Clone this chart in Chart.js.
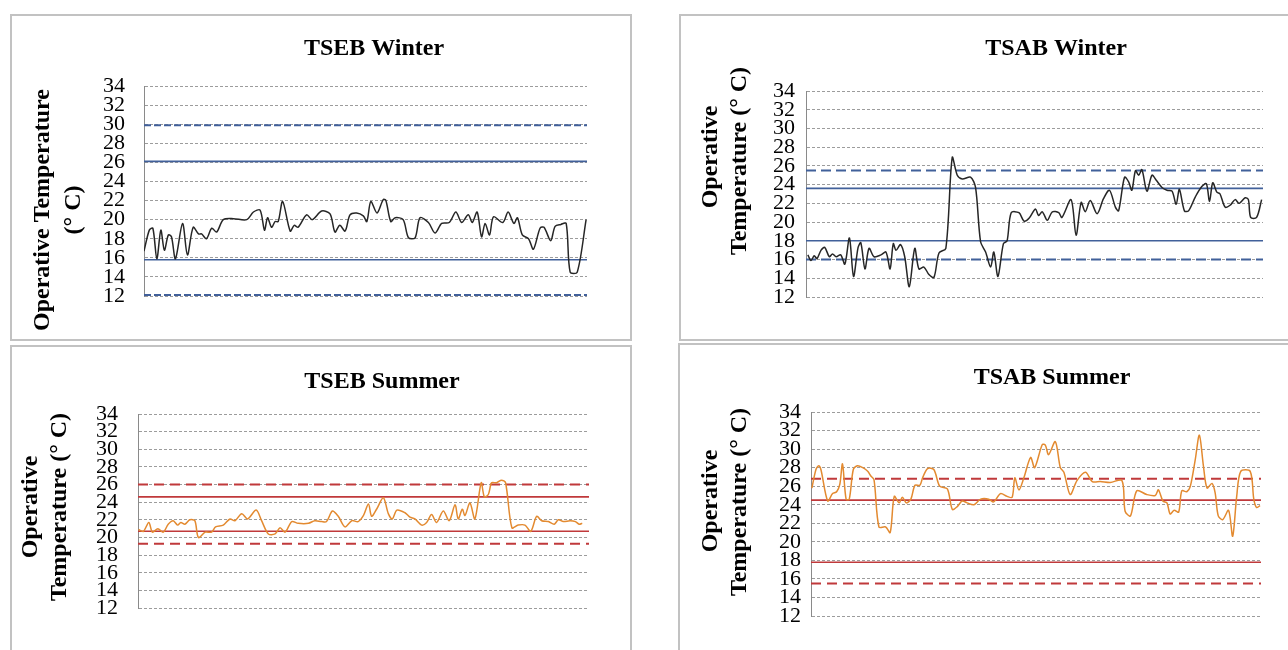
<!DOCTYPE html>
<html lang="en">
<head>
<meta charset="UTF-8">
<title>Operative Temperature - TSEB / TSAB</title>
<script src="https://cdn.jsdelivr.net/npm/chart.js"></script>
<style>
  body { margin: 0; background: #fff; }
  #page { position: relative; width: 1288px; height: 650px; overflow: hidden; }
  .box { position: absolute; border: 2px solid #c2c2c2; box-sizing: border-box; }
  canvas { position: absolute; left: 0; top: 0; }
</style>
</head>
<body>
<div id="page">
  <div class="box" style="left:10px;top:14px;width:622px;height:327px"></div>
  <div class="box" style="left:679px;top:14px;width:640px;height:327px"></div>
  <div class="box" style="left:10px;top:345px;width:622px;height:330px"></div>
  <div class="box" style="left:678px;top:343px;width:640px;height:330px"></div>
  <canvas id="tsebWinter" width="1288" height="650"></canvas>
  <canvas id="tsabWinter" width="1288" height="650"></canvas>
  <canvas id="tsebSummer" width="1288" height="650"></canvas>
  <canvas id="tsabSummer" width="1288" height="650"></canvas>
</div>

<script>
// time along the monitoring period (0-100 % of the run), temperatures in deg C
const timeSpan = [0, 100];
const tempTicks = [12, 34, 2]; // min, max, step

const tsebWinterTime = [0, 1.2, 2.0, 2.9, 3.8, 4.6, 5.5, 6.2, 7.1, 8.7, 9.8, 11.1, 12.3, 13.0, 14.1, 15.3, 16.4, 17.9, 20.2, 23.2,
  24.7, 26.2, 27.2, 27.9, 28.8, 29.6, 30.3, 31.3, 33.0, 33.9, 34.8, 36.7, 38.0, 40.1, 42.0, 43.1, 44.2, 45.4, 46.5, 48.0,
  49.5, 50.3, 51.2, 52.6, 54.0, 54.6, 55.7, 56.7, 58.5, 59.7, 61.2, 62.3, 64.2, 65.7, 67.2, 68.9, 70.4, 71.7, 73.2, 74.1,
  75.2, 76.2, 77.0, 78.0, 78.9, 81.0, 82.2, 83.5, 84.3, 85.4, 86.8, 87.9, 89.4, 90.3, 91.8, 92.8, 94.1, 95.3, 96.2, 97.8, 99.8];
const tsebWinterTemp = [16.7, 18.9, 19.1, 15.9, 18.9, 16.8, 18.4, 18.2, 15.9, 19.6, 16.3, 19.2, 18.5, 18.5, 18.0, 19.1, 18.7, 20.0, 20.1, 20.0,
  20.8, 21.0, 18.9, 20.2, 19.2, 19.8, 19.8, 21.9, 18.8, 19.4, 19.2, 20.5, 20.0, 20.9, 20.6, 18.7, 19.4, 18.8, 20.5, 20.7,
  20.4, 19.8, 21.9, 20.7, 22.1, 22.0, 19.8, 20.2, 20.0, 18.1, 18.1, 20.2, 19.7, 18.6, 19.6, 19.7, 20.8, 19.7, 20.5, 19.7,
  20.8, 18.2, 19.6, 18.4, 20.3, 19.7, 20.8, 19.6, 20.2, 18.4, 18.0, 16.9, 19.1, 19.2, 17.8, 19.3, 19.5, 19.6, 14.5, 14.5, 20.0];
const tsebWinterSolid = [26.1, 15.8];
const tsebWinterDashed = [29.9, 12.1];

const tsabWinterTime = [0.4, 1.1, 1.8, 2.4, 3.3, 4.1, 5.1, 5.8, 6.6, 7.6, 8.5, 9.5, 10.4, 11.4, 12.0, 12.9, 13.8, 14.9, 16.4, 17.5,
  18.4, 19.1, 19.7, 20.7, 21.6, 22.6, 23.8, 24.7, 25.8, 26.9, 28.0, 29.1, 30.6, 32.0, 33.1, 34.2, 36.0, 37.1, 38.2, 39.3,
  40.4, 41.1, 42.0, 43.2, 44.0, 44.9, 46.6, 47.7, 48.8, 50.2, 50.9, 51.7, 52.8, 53.9, 55.3, 56.0, 58.0, 59.1, 60.2, 61.1,
  62.2, 63.7, 65.1, 66.4, 67.7, 68.4, 69.7, 70.6, 71.3, 72.1, 72.8, 73.5, 74.6, 75.7, 76.6, 77.9, 79.0, 80.1, 81.0, 81.7,
  82.8, 83.7, 85.2, 86.6, 87.6, 88.3, 89.0, 89.9, 90.6, 91.7, 92.8, 93.9, 94.8, 96.1, 96.8, 97.3, 98.6, 99.7];
const tsabWinterTemp = [16.5, 15.9, 16.4, 16.1, 17.0, 17.3, 16.3, 16.6, 16.3, 16.5, 15.5, 18.3, 14.2, 17.3, 17.8, 15.0, 17.2, 16.3, 16.5, 16.8,
  15.0, 17.7, 17.0, 17.6, 16.3, 13.1, 17.2, 15.0, 15.2, 14.4, 14.1, 16.7, 17.2, 26.9, 25.0, 24.6, 24.8, 23.7, 17.9, 16.8,
  15.2, 16.8, 14.2, 17.7, 18.0, 21.0, 21.0, 20.1, 20.4, 21.4, 20.7, 21.1, 20.2, 21.1, 21.0, 20.5, 22.4, 18.6, 22.1, 21.1,
  22.3, 20.9, 22.5, 23.4, 21.6, 21.2, 24.8, 24.3, 23.4, 25.5, 25.0, 25.6, 23.3, 25.0, 24.5, 23.7, 23.4, 23.3, 21.9, 23.5,
  21.2, 21.2, 22.7, 23.8, 24.1, 22.2, 24.2, 23.2, 23.0, 21.6, 21.8, 22.4, 22.0, 22.6, 22.4, 20.5, 20.5, 22.4];
const tsabWinterSolid = [23.6, 18.0];
const tsabWinterDashed = [25.5, 16.0];

const tsebSummerTime = [0.1, 1.2, 2.4, 3.2, 4.4, 5.6, 6.7, 7.8, 8.8, 9.5, 10.4, 11.5, 12.6, 13.4, 14.9, 16.3, 17.2, 18.9, 20.4, 21.5,
  23.0, 24.3, 26.2, 27.4, 28.9, 30.4, 31.5, 32.6, 34.1, 35.5, 37.8, 39.2, 40.7, 41.8, 43.1, 44.4, 45.9, 47.4, 48.8, 50.0,
  51.1, 51.8, 52.9, 54.4, 55.5, 56.4, 57.4, 59.2, 60.3, 61.4, 62.9, 64.0, 65.1, 66.2, 67.7, 69.0, 70.3, 71.0, 71.9, 72.5,
  73.6, 74.7, 76.1, 76.8, 77.7, 78.4, 79.5, 80.6, 81.5, 82.9, 84.3, 85.8, 87.1, 88.4, 89.5, 91.0, 92.3, 93.2, 94.3, 95.8,
  97.0, 97.8, 98.5];
const tsebSummerTemp = [20.9, 20.7, 21.7, 20.6, 21.0, 20.6, 21.5, 21.9, 21.4, 21.7, 21.5, 22.0, 21.9, 20.0, 20.6, 20.6, 21.2, 21.4, 22.1, 21.9,
  22.7, 22.1, 23.1, 21.9, 20.4, 20.4, 21.1, 20.6, 21.8, 21.6, 21.6, 21.9, 21.8, 21.8, 23.0, 22.4, 21.2, 21.9, 21.8, 22.5,
  23.8, 22.4, 23.2, 24.5, 22.7, 22.1, 23.1, 22.8, 22.3, 22.1, 21.4, 21.7, 22.6, 21.7, 23.0, 21.9, 23.7, 22.1, 23.2, 22.5,
  23.9, 22.1, 26.2, 24.6, 24.9, 26.2, 26.2, 26.5, 26.2, 21.1, 21.4, 21.4, 20.7, 22.4, 21.9, 21.8, 21.5, 22.0, 21.8, 21.9,
  21.8, 21.5, 21.6];
const tsebSummerSolid = [24.6, 20.7];
const tsebSummerDashed = [26.0, 19.3];

const tsabSummerTime = [0.2, 1.1, 1.7, 2.2, 3.7, 4.8, 5.7, 6.4, 7.0, 7.8, 8.5, 9.4, 10.3, 11.5, 12.6, 13.3, 14.0, 15.1, 16.6, 17.6,
  18.5, 19.6, 20.3, 21.2, 22.2, 23.1, 24.2, 24.8, 25.9, 27.3, 28.6, 30.3, 31.4, 32.5, 33.6, 34.7, 36.2, 37.7, 39.5, 40.6,
  42.1, 43.6, 44.7, 45.3, 46.2, 47.3, 48.8, 49.7, 51.4, 52.1, 52.8, 54.3, 55.4, 56.2, 57.6, 59.1, 61.0, 62.5, 64.3, 66.5,
  69.1, 69.8, 71.0, 72.4, 74.6, 76.5, 77.2, 78.2, 79.1, 79.8, 80.7, 81.7, 82.4, 83.5, 84.3, 85.4, 86.3, 87.2, 88.0, 89.1,
  89.8, 90.5, 91.5, 92.8, 93.7, 94.6, 95.5, 97.6, 98.4, 99.0, 99.8];
const tsabSummerTemp = [25.8, 27.8, 28.2, 27.8, 24.4, 25.2, 25.4, 26.2, 28.4, 24.6, 24.6, 27.8, 28.2, 28.0, 27.6, 27.1, 26.7, 21.6, 21.6, 21.0,
  24.9, 24.2, 24.8, 24.2, 24.6, 26.1, 26.1, 26.9, 27.9, 27.8, 26.0, 25.7, 23.5, 23.8, 24.4, 24.2, 24.0, 24.6, 24.6, 24.3,
  25.2, 24.9, 24.8, 26.9, 25.6, 26.9, 29.1, 28.0, 30.5, 30.4, 29.4, 30.8, 28.0, 27.5, 25.1, 26.6, 27.5, 26.5, 26.5, 26.4,
  26.6, 23.3, 22.8, 25.5, 25.1, 25.0, 25.6, 24.4, 24.2, 23.0, 23.4, 23.2, 25.5, 25.4, 26.0, 28.9, 31.5, 28.2, 25.8, 26.3,
  25.3, 22.8, 22.4, 23.4, 20.6, 24.9, 27.6, 27.6, 24.6, 23.7, 23.9];
const tsabSummerSolid = [24.5, 17.8];
const tsabSummerDashed = [26.8, 15.5];

// draws the chart title and the rotated y-axis title lines where the original figure has them
const panelText = {
  id: 'panelText',
  afterDraw(chart, args, opts) {
    const ctx = chart.ctx;
    ctx.save();
    ctx.fillStyle = '#000';
    ctx.textAlign = 'center';
    ctx.font = 'bold 24px "Liberation Serif", "Times New Roman", serif';
    ctx.textBaseline = 'alphabetic';
    ctx.fillText(opts.title, opts.titleX, opts.titleY);
    ctx.textBaseline = 'middle';
    opts.side.forEach(s => {
      ctx.save();
      ctx.translate(s.x, s.y);
      ctx.rotate(-Math.PI / 2);
      ctx.fillText(s.text, 0, 0);
      ctx.restore();
    });
    ctx.restore();
  }
};

function points(xs, ys) {
  return xs.map((x, i) => ({ x: x, y: ys[i] }));
}

function flat(v) {
  return timeSpan.map(x => ({ x: x, y: v }));
}

function makeChart(id, time, temp, solid, dashed, look) {
  const datasets = [{
    data: points(time, temp),
    borderColor: look.series,
    borderWidth: 1.5,
    tension: 0.3
  }];
  solid.forEach(v => datasets.push({ data: flat(v), borderColor: look.limit, borderWidth: 1.6 }));
  dashed.forEach(v => datasets.push({ data: flat(v), borderColor: look.limit, borderWidth: 2, borderDash: look.dash }));

  const a = look.area;
  return new Chart(document.getElementById(id), {
    type: 'line',
    data: { datasets: datasets },
    options: {
      responsive: false,
      animation: false,
      devicePixelRatio: 1,
      elements: { point: { radius: 0 } },
      layout: { padding: { left: 0, top: a.top, right: 1288 - a.right, bottom: 650 - a.bottom } },
      scales: {
        x: { type: 'linear', min: timeSpan[0], max: timeSpan[1], display: false },
        y: {
          min: tempTicks[0],
          max: tempTicks[1],
          afterFit: s => { s.width = a.left; },
          ticks: {
            stepSize: tempTicks[2],
            autoSkip: false,
            padding: look.tickPad,
            color: '#000',
            font: { family: '"Liberation Serif", "Times New Roman", serif', size: 22 }
          },
          grid: { color: '#9c9c9c', lineWidth: 1, drawTicks: false },
          border: { display: true, color: '#8a8a8a', width: 1, dash: [3, 2] }
        }
      },
      plugins: {
        legend: { display: false },
        tooltip: { enabled: false },
        panelText: look.text
      }
    },
    plugins: [panelText]
  });
}

const winterLook = { series: '#262626', limit: '#41609a' };
const summerLook = { series: '#e38a30', limit: '#c0393b' };

makeChart('tsebWinter', tsebWinterTime, tsebWinterTemp, tsebWinterSolid, tsebWinterDashed, Object.assign({}, winterLook, {
  dash: [7, 3], tickPad: 19,
  area: { left: 144, right: 587, top: 86, bottom: 296 },
  text: { title: 'TSEB Winter', titleX: 374, titleY: 55,
    side: [{ text: 'Operative Temperature', x: 43, y: 210 }, { text: '(° C)', x: 74, y: 210 }] }
}));

makeChart('tsabWinter', tsabWinterTime, tsabWinterTemp, tsabWinterSolid, tsabWinterDashed, Object.assign({}, winterLook, {
  dash: [10, 5], tickPad: 11,
  area: { left: 806, right: 1263, top: 91, bottom: 297 },
  text: { title: 'TSAB Winter', titleX: 1056, titleY: 55,
    side: [{ text: 'Operative', x: 711, y: 157 }, { text: 'Temperature (° C)', x: 740, y: 161 }] }
}));

makeChart('tsebSummer', tsebSummerTime, tsebSummerTemp, tsebSummerSolid, tsebSummerDashed, Object.assign({}, summerLook, {
  dash: [10, 6], tickPad: 20,
  area: { left: 138, right: 589, top: 414, bottom: 608 },
  text: { title: 'TSEB Summer', titleX: 382, titleY: 388,
    side: [{ text: 'Operative', x: 31, y: 507 }, { text: 'Temperature (° C)', x: 60, y: 507 }] }
}));

makeChart('tsabSummer', tsabSummerTime, tsabSummerTemp, tsabSummerSolid, tsabSummerDashed, Object.assign({}, summerLook, {
  dash: [10, 6], tickPad: 10,
  area: { left: 811, right: 1261, top: 412, bottom: 616 },
  text: { title: 'TSAB Summer', titleX: 1052, titleY: 384,
    side: [{ text: 'Operative', x: 711, y: 501 }, { text: 'Temperature (° C)', x: 740, y: 502 }] }
}));
</script>
</body>
</html>
